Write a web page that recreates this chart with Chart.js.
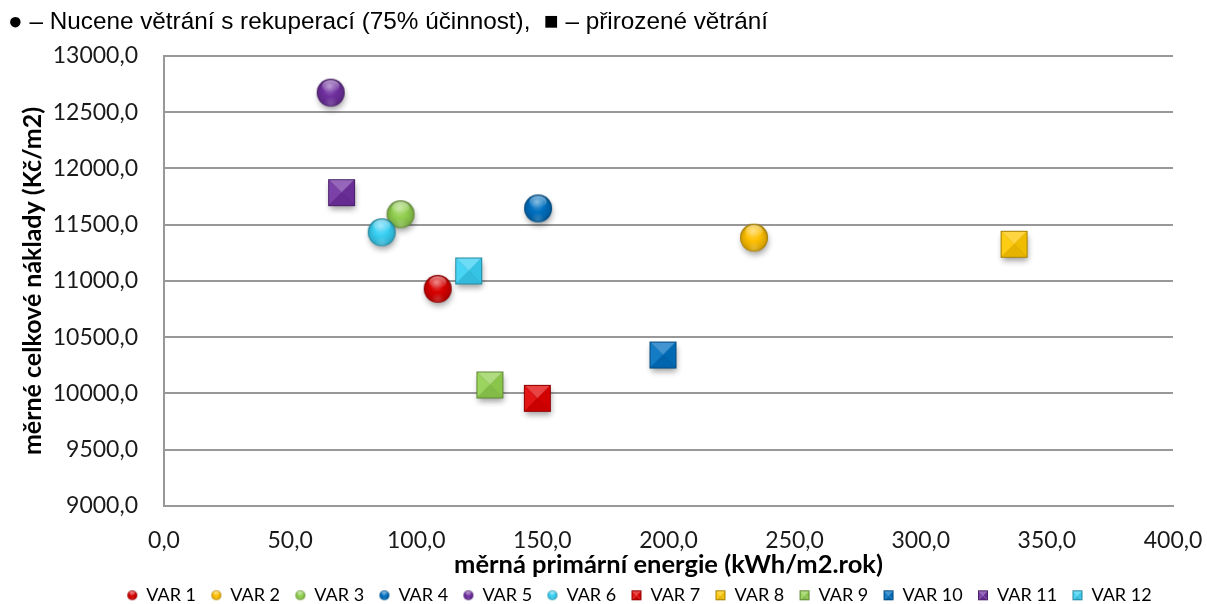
<!DOCTYPE html>
<html lang="cs">
<head>
<meta charset="utf-8">
<title>Měrné celkové náklady vs. primární energie</title>
<script src="https://cdn.jsdelivr.net/npm/chart.js@4.4.1/dist/chart.umd.min.js"></script>
<style>
  html, body { margin: 0; padding: 0; background: #ffffff; }
  #wrap { width: 1207px; height: 604px; }
</style>
</head>
<body>
<div id="wrap"><canvas id="chart" width="1207" height="604"></canvas></div>
<script>
// ---- data ----
const variantNames = ['VAR 1', 'VAR 2', 'VAR 3', 'VAR 4', 'VAR 5', 'VAR 6',
                      'VAR 7', 'VAR 8', 'VAR 9', 'VAR 10', 'VAR 11', 'VAR 12'];
// měrná primární energie (kWh/m2.rok)
const primaryEnergy = [108.5, 233.9, 93.8, 148.3, 66.1, 86.3,
                       148.0, 337.0, 129.2, 197.8, 70.4, 120.8];
// měrné celkové náklady (Kč/m2)
const totalCosts = [10930, 11385, 11593, 11645, 12674, 11433,
                    9957, 11326, 10076, 10342, 11785, 11089];
// větrání: 'circle' = nucené s rekuperací, 'square' = přirozené
const ventilation = ['circle', 'circle', 'circle', 'circle', 'circle', 'circle',
                     'square', 'square', 'square', 'square', 'square', 'square'];
const xTickValues = [0, 50, 100, 150, 200, 250, 300, 350, 400];
const yTickValues = [9000, 9500, 10000, 10500, 11000, 11500, 12000, 12500, 13000];

// ---- styling ----
const palette = ['#d80000', '#ffc000', '#92d050', '#0070c0', '#7030a0', '#38d0f4',
                 '#e00000', '#ffc800', '#92d050', '#0070c0', '#7030a0', '#38d0f4'];

function hexToRgb(hex) {
  const n = parseInt(hex.slice(1), 16);
  return [(n >> 16) & 255, (n >> 8) & 255, n & 255];
}
// amt > 0 mixes toward white, amt < 0 toward black
function shade(hex, amt) {
  const [r, g, b] = hexToRgb(hex);
  const t = amt > 0 ? 255 : 0, p = Math.abs(amt);
  const m = v => Math.round(v + (t - v) * p);
  return `rgb(${m(r)},${m(g)},${m(b)})`;
}

function sphereMarker(color, d, withShadow) {
  const pad = withShadow ? 9 : 1;
  const size = Math.ceil(d + pad * 2);
  const cv = document.createElement('canvas');
  cv.width = cv.height = size;
  const g = cv.getContext('2d');
  const c = size / 2, r = d / 2;
  if (withShadow) {
    g.save();
    g.shadowColor = 'rgba(0,0,0,0.38)';
    g.shadowBlur = 6;
    g.shadowOffsetX = 1;
    g.shadowOffsetY = 4;
    g.beginPath(); g.arc(c, c, r - 1, 0, Math.PI * 2);
    g.fillStyle = shade(color, -0.3); g.fill();
    g.restore();
  }
  const body = g.createRadialGradient(c - r * 0.1, c - r * 0.45, r * 0.05, c, c + r * 0.05, r);
  body.addColorStop(0, shade(color, 0.35));
  body.addColorStop(0.45, color);
  body.addColorStop(0.85, shade(color, -0.15));
  body.addColorStop(1, shade(color, -0.4));
  g.beginPath(); g.arc(c, c, r, 0, Math.PI * 2);
  g.fillStyle = body; g.fill();
  // glossy cap
  const gl = g.createLinearGradient(0, c - r * 0.95, 0, c - r * 0.05);
  gl.addColorStop(0, 'rgba(255,255,255,0.55)');
  gl.addColorStop(1, 'rgba(255,255,255,0)');
  g.beginPath(); g.ellipse(c, c - r * 0.47, r * 0.62, r * 0.44, 0, 0, Math.PI * 2);
  g.fillStyle = gl; g.fill();
  // soft reflected light at the bottom
  const rl = g.createRadialGradient(c, c + r * 0.75, 0, c, c + r * 0.75, r * 0.5);
  rl.addColorStop(0, 'rgba(255,255,255,0.18)');
  rl.addColorStop(1, 'rgba(255,255,255,0)');
  g.beginPath(); g.arc(c, c, r, 0, Math.PI * 2);
  g.fillStyle = rl; g.fill();
  return cv;
}

function pyramidMarker(color, s, withShadow) {
  const pad = withShadow ? 9 : 1;
  const size = Math.ceil(s + pad * 2);
  const cv = document.createElement('canvas');
  cv.width = cv.height = size;
  const g = cv.getContext('2d');
  const c = size / 2;
  const x0 = c - s / 2, y0 = c - s / 2, x1 = c + s / 2, y1 = c + s / 2;
  if (withShadow) {
    g.save();
    g.shadowColor = 'rgba(0,0,0,0.38)';
    g.shadowBlur = 6;
    g.shadowOffsetX = 1;
    g.shadowOffsetY = 4;
    g.fillStyle = shade(color, -0.3);
    g.fillRect(x0 + 1, y0 + 1, s - 2, s - 2);
    g.restore();
  }
  const tri = (ax, ay, bx, by, fill) => {
    g.beginPath(); g.moveTo(ax, ay); g.lineTo(bx, by); g.lineTo(c, c); g.closePath();
    g.fillStyle = fill; g.fill();
  };
  tri(x0, y0, x1, y0, shade(color, 0.26));   // top face
  tri(x0, y0, x0, y1, shade(color, 0.08));   // left face
  tri(x1, y0, x1, y1, shade(color, -0.06));  // right face
  tri(x0, y1, x1, y1, shade(color, -0.1));   // bottom face
  g.strokeStyle = shade(color, -0.35);
  g.lineWidth = 1;
  g.strokeRect(x0 + 0.5, y0 + 0.5, s - 1, s - 1);
  return cv;
}

const plotMarkers = ventilation.map((k, i) =>
  k === 'circle' ? sphereMarker(palette[i], 28, true) : pyramidMarker(palette[i], 27, true));
const legendMarkers = ventilation.map((k, i) =>
  k === 'circle' ? sphereMarker(palette[i], 10, false) : pyramidMarker(palette[i], 10, false));

const datasets = variantNames.map((name, i) => ({
  label: name,
  data: [{ x: primaryEnergy[i], y: totalCosts[i] }],
  pointStyle: plotMarkers[i],
  pointRadius: 14,
  pointHoverRadius: 14,
  backgroundColor: palette[i],
  borderColor: palette[i],
  order: variantNames.length - i
}));

const tickFont = { family: 'Lato', size: 23 };
const gridColor = '#989898';

// keeps the legend row under the plot
const legendPlacement = {
  id: 'legendPlacement',
  afterLayout(chart) {
    const L = chart.legend;
    if (!L) return;
    const w = L.right - L.left;
    L.left = 112; L.right = L.left + w;
    L.top = 571; L.bottom = chart.height;
    L.height = L.bottom - L.top;
  }
};

new Chart(document.getElementById('chart'), {
  type: 'scatter',
  data: { datasets },
  plugins: [legendPlacement],
  options: {
    responsive: false,
    animation: false,
    devicePixelRatio: 1,
    layout: { padding: { left: 8, right: 34, top: 0, bottom: 0 } },
    scales: {
      x: {
        type: 'linear',
        min: 0, max: 400,
        afterBuildTicks: s => { s.ticks = xTickValues.map(v => ({ value: v })); },
        afterFit: s => { s.height = 80; s.paddingLeft = 20; s.paddingRight = 20; },
        grid: { display: false, drawTicks: false },
        border: { display: true, color: gridColor, width: 2 },
        ticks: {
          font: tickFont, color: '#1a1a1a', padding: 21, maxRotation: 0,
          callback: v => Number(v).toFixed(1).replace('.', ',')
        },
        title: {
          display: true, text: 'měrná primární energie (kWh/m2.rok)',
          font: { family: 'Lato', size: 25.5, weight: 'bold' }, color: '#000',
          padding: { top: 0, bottom: 6 }
        }
      },
      y: {
        type: 'linear',
        min: 9000, max: 13000,
        afterBuildTicks: s => { s.ticks = yTickValues.map(v => ({ value: v })); },
        afterFit: s => { s.width = 156; },
        grid: { color: gridColor, lineWidth: 2, drawTicks: false },
        border: { display: true, color: gridColor, width: 2 },
        ticks: {
          font: tickFont, color: '#1a1a1a', padding: 26,
          callback: v => Number(v).toFixed(1).replace('.', ',')
        },
        title: {
          display: true, text: 'měrné celkové náklady (Kč/m2)',
          font: { family: 'Lato', size: 25, weight: 'bold' }, color: '#000',
          padding: { top: 10, bottom: 0 }
        }
      }
    },
    plugins: {
      title: {
        display: true,
        align: 'start',
        text: '● – Nucene větrání s rekuperací (75% účinnost),  ■ – přirozené větrání',
        font: { family: 'Liberation Sans', size: 24.3, weight: 'normal', lineHeight: 1.2 },
        color: '#000',
        padding: { top: 8, bottom: 18.8 }
      },
      legend: {
        position: 'bottom',
        align: 'start',
        maxHeight: 18,
        labels: {
          usePointStyle: true,
          pointStyleWidth: 10,
          boxHeight: 10,
          padding: 15.3,
          font: { family: 'Lato', size: 18 },
          color: '#000',
          generateLabels: chart => chart.data.datasets.map((ds, i) => ({
            text: ds.label,
            pointStyle: legendMarkers[i],
            fillStyle: ds.backgroundColor,
            strokeStyle: ds.backgroundColor,
            lineWidth: 0,
            fontColor: '#000',
            hidden: !chart.isDatasetVisible(i),
            datasetIndex: i
          }))
        }
      },
      tooltip: { enabled: false }
    }
  }
});
</script>
</body>
</html>
